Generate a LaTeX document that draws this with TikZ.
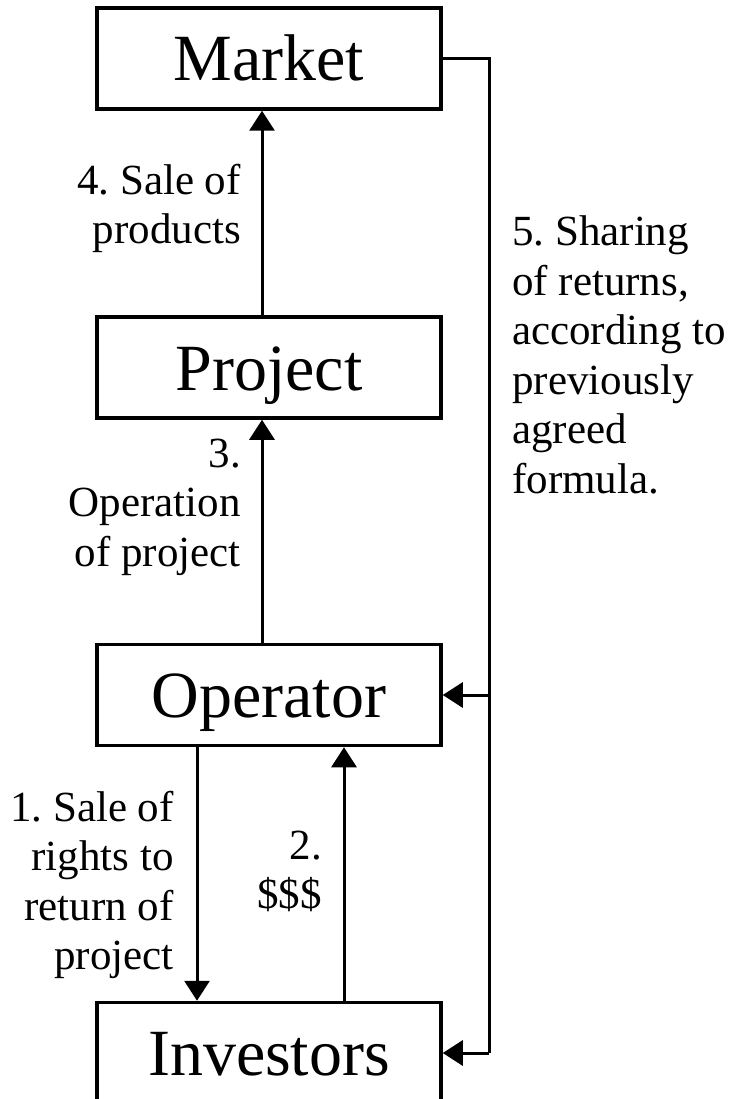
\documentclass[tikz,border=0pt]{standalone}
\usepackage{fontspec}
\setmainfont{Liberation Serif}
\usetikzlibrary{arrows.meta}
\frenchspacing
\begin{document}
\begin{tikzpicture}[x=1pt,y=-1pt,
  box/.style={draw=black, line width=3.5pt, minimum width=344pt, minimum height=101pt,
    inner sep=0pt, text height=45pt, text depth=0pt, font=\fontsize{66}{70}\selectfont},
  conn/.style={line width=3pt},
  arr/.style={conn, -{Triangle[width=25pt,length=20pt]}},
  lbl/.style={inner sep=0pt, font=\fontsize{43}{49.5}\selectfont}
]
\useasboundingbox (0,0) rectangle (730,1099);
\clip (0,0) rectangle (730,1099);

% boxes
\node[box] (market)    at (269,58.5)  {Market};
\node[box] (project)   at (269,367.5) {Project};
\node[box] (operator)  at (269,695)   {Operator};
\node[box] (investors) at (269,1053)  {Investors};

% columns of the vertical connectors and the return line
\coordinate (cmid)   at (262,0);
\coordinate (cleft)  at (197,0);
\coordinate (cright) at (344,0);
\coordinate (rtop)   at (489,58.5);
\coordinate (rop)    at (489,695);
\coordinate (rinv)   at (489,1053);

% vertical flows
\draw[arr] (project.north -| cmid) -- (market.south -| cmid);
\draw[arr] (operator.north -| cmid) -- (project.south -| cmid);
\draw[arr] (operator.south -| cleft) -- (investors.north -| cleft);
\draw[arr] (investors.north -| cright) -- (operator.south -| cright);

% sharing of returns
\draw[conn] (market.east) -- (rtop) -- (rinv);
\draw[arr] (rop) -- (operator.east);
\draw[arr] (rinv) -- (investors.east);

% labels (top edge sits one ascender above the first baseline)
\node[lbl, anchor=north east, align=right] (l4) at (241,163.7) {4. Sale of\\products};
\node[lbl, anchor=north east, align=right] (l3) at (241,438.7) {3.\\Operation\\of project};
\node[lbl, anchor=north east, align=right] (l1) at (174,790.7) {1. Sale of\\rights to\\return of\\project};
\node[lbl, anchor=north east, align=right] (l2) at (322,830.7) {2.\\\$\$\$};
\node[lbl, anchor=north west, align=left]  (l5) at (512,215.7) {5. Sharing\\of returns,\\according to\\previously\\agreed\\formula.};
\end{tikzpicture}
\end{document}
